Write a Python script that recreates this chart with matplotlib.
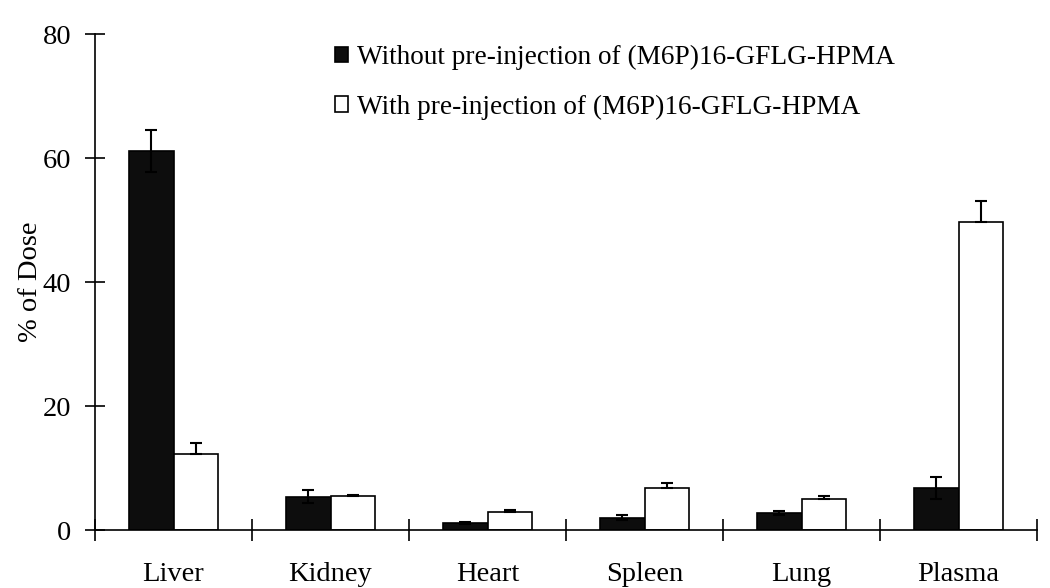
import numpy as np
import matplotlib
matplotlib.use("Agg")
import matplotlib.pyplot as plt

plt.rcParams['font.family'] = ['Liberation Serif', 'DejaVu Serif']

# --- DATOS ---
organos = ["Liver", "Kidney", "Heart", "Spleen", "Lung", "Plasma"]
sin_pre = [61.1, 5.4, 1.1, 2.0, 2.7, 6.8]
sin_pre_err = [3.4, 1.0, 0.2, 0.4, 0.35, 1.8]
con_pre = [12.3, 5.5, 2.85, 6.8, 4.95, 49.7]
con_pre_err = [1.8, 0.2, 0.4, 0.75, 0.5, 3.4]
etiquetas = ["Without pre-injection of (M6P)16-GFLG-HPMA",
             "With pre-injection of (M6P)16-GFLG-HPMA"]

fig = plt.figure(figsize=(10.5, 5.88), dpi=100)
ax = fig.add_axes([95 / 1050, 1 - 530 / 588, 942 / 1050, 496 / 588])

x = np.arange(len(organos)) + 0.5
w = 0.285

ax.bar(x - w / 2, sin_pre, w, color='#0d0d0d', edgecolor='black', linewidth=1.2,
       label=etiquetas[0], zorder=2)
ax.bar(x + w / 2, con_pre, w, color='white', edgecolor='black', linewidth=1.2,
       label=etiquetas[1], zorder=2)
ax.errorbar(x - w / 2, sin_pre, yerr=sin_pre_err, fmt='none', ecolor='black',
            elinewidth=1.5, capsize=4, capthick=1.5, zorder=3)
ax.errorbar(x + w / 2, con_pre, yerr=[np.zeros(len(con_pre)), con_pre_err], fmt='none',
            ecolor='black', elinewidth=1.5, capsize=4, capthick=1.5, zorder=3)

ax.set_xlim(0, len(organos))
ax.set_ylim(0, 80)
ax.set_yticks([0, 20, 40, 60, 80])
ax.set_xticks(np.arange(len(organos) + 1))
ax.set_xticklabels([])
ax.set_xticks(x, minor=True)
ax.set_xticklabels(organos, minor=True)
ax.tick_params(axis='x', which='major', direction='inout', length=16, width=1.2)
ax.tick_params(axis='x', which='minor', length=0, pad=23, labelsize=20.5)
ax.tick_params(axis='y', direction='inout', length=14, width=1.2, labelsize=20.5, pad=10)

for s in ['top', 'right']:
    ax.spines[s].set_visible(False)
for s in ['left', 'bottom']:
    ax.spines[s].set_linewidth(1.2)

ax.set_ylabel("% of Dose", fontsize=20.5, labelpad=0)

ax.legend(loc='upper left', bbox_to_anchor=(0.243, 1.0), frameon=False, fontsize=19.6,
          handlelength=0.5, handleheight=0.5, handletextpad=0.3, labelspacing=0.9,
          borderaxespad=0)

fig.savefig("out.png", dpi=100)
